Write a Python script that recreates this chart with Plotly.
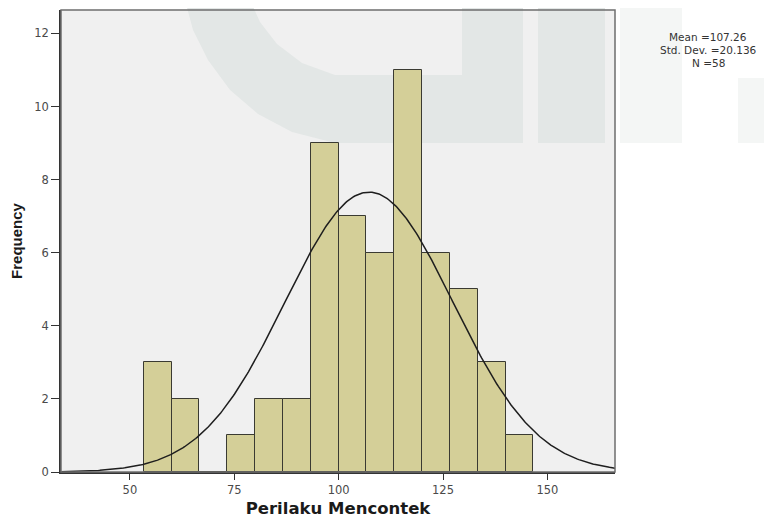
import numpy as np
import plotly.graph_objects as go

# ---- data ----
bin_edges = [53.3, 60.0, 66.6, 73.3, 80.0, 86.6, 93.3, 100.0, 106.6, 113.3,
             120.0, 126.6, 133.3, 140.0, 146.6]
frequencies = [3, 2, 0, 1, 2, 2, 9, 7, 6, 11, 6, 5, 3, 1]
stat_mean = 107.26
stat_sd = 20.136
stat_n = 58
stat_lines = [f"Mean ={stat_mean}", f"Std. Dev. ={stat_sd}", f"N ={stat_n}"]
x_ticks = [50, 75, 100, 125, 150]
y_ticks = [0, 2, 4, 6, 8, 10, 12]

# ---- derived ----
centers = [(a + b) / 2 for a, b in zip(bin_edges[:-1], bin_edges[1:])]
widths = [b - a for a, b in zip(bin_edges[:-1], bin_edges[1:])]
bw = float(np.mean(widths))

x_range = [33.5, 166.2]
y_range = [0, 12.64]

xs = np.linspace(x_range[0], x_range[1], 400)
curve = stat_n * bw / (stat_sd * np.sqrt(2 * np.pi)) * np.exp(-0.5 * ((xs - stat_mean) / stat_sd) ** 2)

# page has an 8px body margin; figure sized to fit the 772x526 window
OFF = 8
W, H = 772 - 2 * OFF, 526 - 2 * OFF
L, T = 61 - OFF, 10 - OFF
R = W - (615 - OFF)
B = H - (472 - OFF)
pw, ph = W - L - R, H - T - B


def px(xp):  # page pixel -> paper x
    return (xp - OFF - L) / pw


def py(yp):  # page pixel -> paper y
    return (H - B - (yp - OFF)) / ph


fig = go.Figure()

fig.add_trace(go.Bar(
    x=centers, y=frequencies, width=widths,
    marker=dict(color="#d4cf98", line=dict(color="#3a3a32", width=1)),
    hoverinfo="skip", showlegend=False,
))

fig.add_trace(go.Scatter(
    x=xs, y=curve, mode="lines",
    line=dict(color="#1e1e1e", width=1.5),
    hoverinfo="skip", showlegend=False,
))

# ---- faint watermark (decoration) ----
wm_in = "#e3e7e6"
wm_out = "#f4f6f5"
ring_pts = [(185, 0), (193, 30), (208, 60), (230, 90), (258, 114), (292, 132), (335, 143),
            (462, 143), (462, 75), (335, 75), (302, 63), (277, 44), (260, 22), (250, 0)]
path = "M " + " L ".join(f"{px(a):.4f},{py(b):.4f}" for a, b in ring_pts) + " Z"
shapes = [
    dict(type="path", path=path, xref="paper", yref="paper", layer="below",
         fillcolor=wm_in, line=dict(width=0)),
    dict(type="rect", xref="paper", yref="paper", layer="below",
         x0=px(462), x1=px(523), y0=py(143), y1=py(0), fillcolor=wm_in, line=dict(width=0)),
    dict(type="rect", xref="paper", yref="paper", layer="below",
         x0=px(538), x1=px(605), y0=py(143), y1=py(0), fillcolor=wm_in, line=dict(width=0)),
    dict(type="rect", xref="paper", yref="paper", layer="below",
         x0=px(620), x1=px(682), y0=py(143), y1=py(0), fillcolor=wm_out, line=dict(width=0)),
    dict(type="rect", xref="paper", yref="paper", layer="below",
         x0=px(738), x1=px(772), y0=py(143), y1=py(78), fillcolor=wm_out, line=dict(width=0)),
    # plot frame (top/right lighter)
    dict(type="rect", xref="paper", yref="paper", layer="above",
         x0=0, x1=1, y0=0, y1=1, line=dict(color="#6e6e6e", width=1.5)),
]

annotations = [
    dict(xref="paper", yref="paper", x=px(708), y=py(yy), xanchor="center", yanchor="middle",
         text=txt, showarrow=False,
         font=dict(size=10.5, color="#333333", family="DejaVu Sans, Verdana, sans-serif"))
    for txt, yy in zip(stat_lines, [37, 50, 63])
]

fig.update_layout(
    width=W, height=H,
    margin=dict(l=L, r=R, t=T, b=B, pad=0),
    paper_bgcolor="white",
    plot_bgcolor="#f0f0f0",
    bargap=0,
    shapes=shapes,
    annotations=annotations,
    font=dict(family="DejaVu Sans, Verdana, sans-serif", color="#333333", size=11),
    xaxis=dict(
        range=x_range, tickvals=x_ticks, ticks="outside", ticklen=6, tickwidth=1.2,
        tickcolor="#333333", showgrid=False, zeroline=False, showline=True,
        linecolor="#333333", linewidth=1.5,
        tickfont=dict(size=11.5, color="#4a4a4a", family="DejaVu Sans, Verdana, sans-serif"),
        title=dict(text="<b>Perilaku Mencontek</b>", standoff=8,
                   font=dict(family="DejaVu Sans, Verdana, sans-serif", size=16.5, color="#1a1a1a")),
    ),
    yaxis=dict(
        range=y_range, tickvals=y_ticks, ticks="outside", ticklen=8, tickwidth=1.2,
        tickcolor="#333333", showgrid=False, zeroline=False, showline=True,
        linecolor="#333333", linewidth=1.5,
        tickfont=dict(size=11.5, color="#4a4a4a", family="DejaVu Sans, Verdana, sans-serif"),
        title=dict(text="<b>Frequency</b>", standoff=12,
                   font=dict(family="Liberation Sans Narrow, Liberation Sans, Arial, sans-serif", size=15, color="#1a1a1a")),
    ),
)

fig.write_html("out.html")
